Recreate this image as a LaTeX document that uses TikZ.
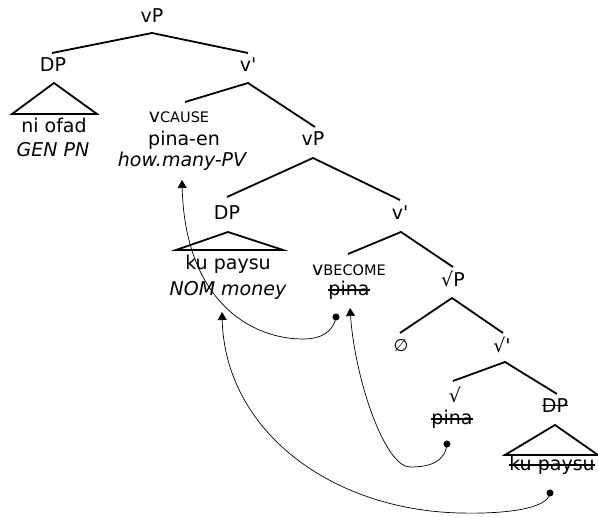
\documentclass[tikz,border=0pt]{standalone}
\usepackage{fontspec}
\setmainfont{DejaVu Sans}
\usetikzlibrary{arrows.meta}
\newcommand\strk[2][0.28em]{\leavevmode\setbox0\hbox{#2}\rlap{\rule[#1]{\wd0}{0.07em}}\box0}
\newcommand\smcap[1]{{\fontsize{14.5}{14.5}\selectfont #1}}
\begin{document}
\begin{tikzpicture}[x=1pt,y=-1pt,font=\fontsize{19}{22}\selectfont,
  lbl/.style={anchor=base,inner sep=0pt},
  br/.style={line width=1.8pt},
  mv/.style={line width=0.7pt,-{Triangle[length=8pt,width=9pt]}},
  dotfill/.style={fill=black}]
\useasboundingbox (0,0) rectangle (598,518);
% labels
\node[lbl] (vP1) at (152,23) {vP};
\node[lbl] (DP1) at (53,72) {DP};
\node[lbl] (vbar1) at (248,72) {v\textquotesingle};
\node[lbl] (nio) at (54,133) {ni ofad};
\node[lbl] (gen) at (53,157) {\itshape GEN PN};
\node[lbl] (vc) at (179,123) {v\smcap{CAUSE}};
\node[lbl] (pinaen) at (184,146) {pina-en};
\node[lbl] (how) at (182,167) {\itshape how.many-PV};
\node[lbl] (vP2) at (313,146) {vP};
\node[lbl] (DP2) at (227,220) {DP};
\node[lbl] (vbar2) at (400,220) {v\textquotesingle};
\node[lbl] (ku) at (228,270) {ku paysu};
\node[lbl] (nom) at (228,296) {\itshape NOM money};
\node[lbl] (vb) at (349,276) {v\smcap{BECOME}};
\node[lbl] (pina1) at (349,296) {\strk{pina}};
\node[lbl] (rP) at (453,287) {√P};
\node[lbl] (empty) at (401,352) {{\fontsize{17}{17}\selectfont ∅}};
\node[lbl] (rbar) at (502,353) {√\textquotesingle};
\node[lbl] (root) at (455,403) {√};
\node[lbl] (pina2) at (452,425) {\strk{pina}};
\node[lbl] (DP3) at (555,413) {\strk[0.36em]{DP}};
\node[lbl] (ku2) at (552,471) {\strk{ku paysu}};
% branch points
\coordinate (a1) at (152,33); \coordinate (a1l) at (52,53); \coordinate (a1r) at (248,53);
\coordinate (a2) at (248,83); \coordinate (a2l) at (185,102); \coordinate (a2r) at (315,127);
\coordinate (a3) at (313,158); \coordinate (a3l) at (227,197); \coordinate (a3r) at (400,200);
\coordinate (a4) at (401,232); \coordinate (a4l) at (348,254); \coordinate (a4r) at (453,267);
\coordinate (a5) at (452,298); \coordinate (a5l) at (400,333); \coordinate (a5r) at (503,333);
\coordinate (a6) at (505,362); \coordinate (a6l) at (453,381); \coordinate (a6r) at (557,394);
\draw[br] (a1l) -- (a1) -- (a1r);
\draw[br] (a2l) -- (a2) -- (a2r);
\draw[br] (a3l) -- (a3) -- (a3r);
\draw[br] (a4l) -- (a4) -- (a4r);
\draw[br] (a5l) -- (a5) -- (a5r);
\draw[br] (a6l) -- (a6) -- (a6r);
% triangles
\draw[br,line join=miter] (54,83) -- (97,114) -- (12,114) -- cycle;
\draw[br,line join=miter] (228,232) -- (283,250) -- (176,250) -- cycle;
\draw[br,line join=miter] (555,425) -- (598,455) -- (505,455) -- cycle;
% movement arrows
\coordinate (d1) at (336,317); \coordinate (t1) at (182,180);
\coordinate (d2) at (447,444); \coordinate (t2) at (350,308);
\coordinate (d3) at (550,493); \coordinate (t3) at (222,312);
\draw[mv] (d1) .. controls (333,333) and (320,339) .. (303,339) .. controls (250,339) and (185,300) .. (t1);
\draw[mv] (d2) .. controls (445,462) and (430,467) .. (410,467) .. controls (385,467) and (355,380) .. (t2);
\draw[mv] (d3) .. controls (548,510) and (500,514) .. (460,513) .. controls (330,510) and (225,430) .. (t3);
\fill[dotfill] (d1) circle (3.5);
\fill[dotfill] (d2) circle (3.5);
\fill[dotfill] (d3) circle (3.5);
\end{tikzpicture}
\end{document}
